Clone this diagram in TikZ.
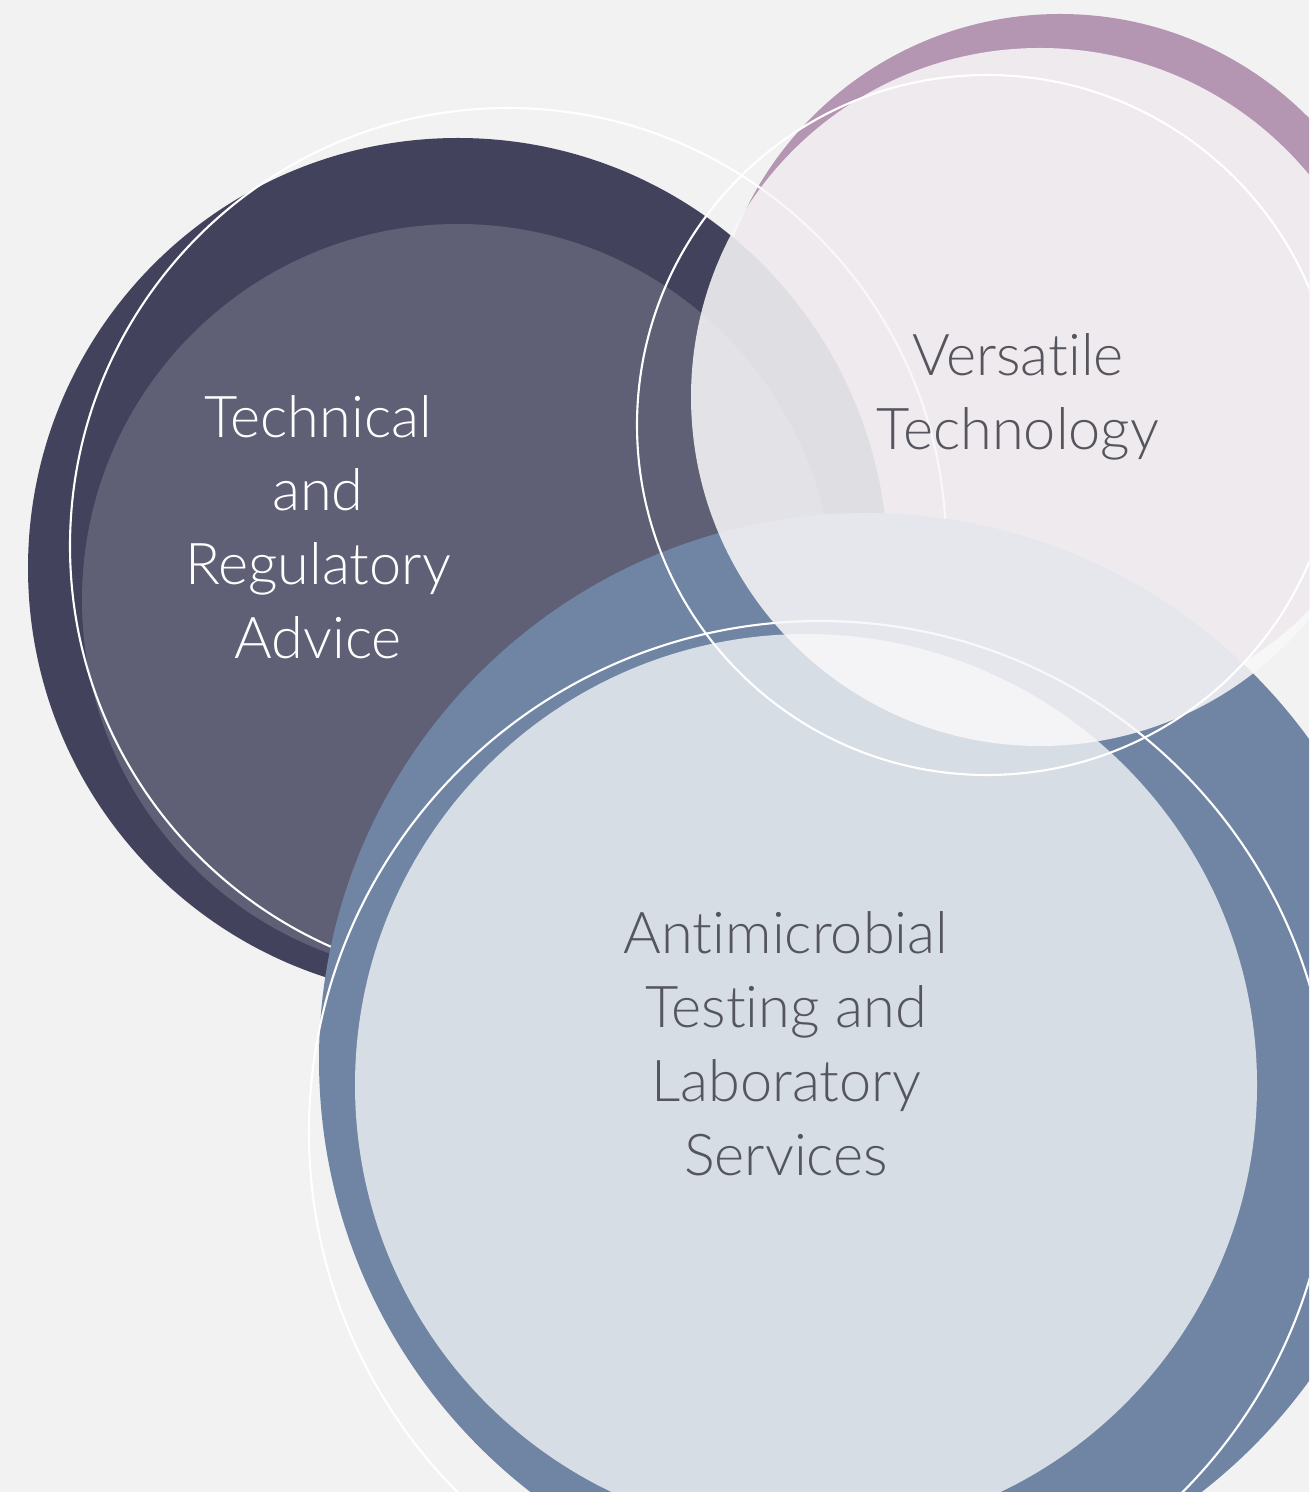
\documentclass[tikz,border=0pt]{standalone}
\usepackage{fontspec}
\IfFontExistsTF{Lato Light}{\setmainfont{Lato Light}[Ligatures=NoCommon]}{\setmainfont{Lato}[Ligatures=NoCommon]}
\definecolor{pagegray}{HTML}{F2F2F2}
\definecolor{slate}{HTML}{42425C}
\definecolor{steel}{HTML}{7085A4}
\definecolor{mauve}{HTML}{B596B2}
\definecolor{mist}{HTML}{F9F8F9}
\definecolor{inkgray}{HTML}{55555E}
\def\ringwidth{0.6pt}
\def\textsize{16.4}
\def\textskip{21}
\newcommand\bubble[7]{%
    % #1: Base colour
    % #2: Base centre
    % #3: Base radius
    % #4: Veil opacity
    % #5: Veil centre
    % #6: Veil radius
    % #7: Ring centre and radius
    \fill[#1] #2 circle (#3);
    \fill[veil=#4] #5 circle (#6);
    \draw[halo] #7;
}

\begin{document}
\begin{tikzpicture}[
        x=0.01cm,y=-0.01cm,
        veil/.style={white,fill opacity=#1},
        halo/.style={white,line width=\ringwidth},
        bubbletext/.style={align=center,inner sep=0pt,
            font=\fontsize{\textsize}{\textskip}\selectfont},
    ]
    \useasboundingbox (0,0) rectangle (1309,1492);
    \clip (0,0) rectangle (1309,1492);
    \fill[pagegray] (0,0) rectangle (1309,1492);

    % mauve base goes under the other two
    \fill[mauve] (1060,364) circle (350);

    \bubble{slate}{(458,568)}{430}{.155}{(458,600)}{376}{(508,546) circle (438)}
    \bubble{steel}{(866,1060)}{547}{.72}{(806,1085)}{451}{(820,1132) circle (511)}

    % veil and ring of the mauve one on top
    \fill[veil=.86,mist] (1040,397) circle (349);
    \draw[halo] (987,425) circle (350);

    \node[bubbletext,text=white] (advice) at (318,527) {Technical\\and\\Regulatory\\Advice};
    \node[bubbletext,text=inkgray] (versatile) at (1018,397) {Versatile\\Technology};
    \node[bubbletext,text=inkgray] (testing) at (786,1044) {Antimicrobial\\Testing and\\Laboratory\\Services};
\end{tikzpicture}
\end{document}
